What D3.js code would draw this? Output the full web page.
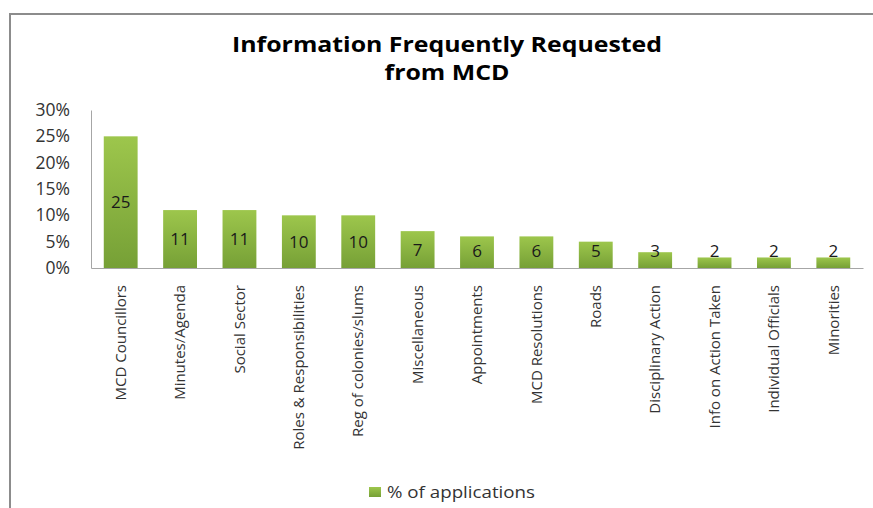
<!DOCTYPE html>
<html>
<head>
<meta charset="utf-8">
<script src="https://cdn.jsdelivr.net/npm/d3@7"></script>
<style>
  body { margin: 0; background: #fff; }
  text { font-family: "Open Sans", sans-serif; fill: #1a1a1a; }
</style>
</head>
<body>
<div id="chart"></div>
<script>
// chart data
const categories = ["MCD Councillors", "Minutes/Agenda", "Social Sector", "Roles & Responsibilities",
  "Reg of colonies/slums", "Miscellaneous", "Appointments", "MCD Resolutions", "Roads",
  "Disciplinary Action", "Info on Action Taken", "Individual Officials", "Minorities"];
const values = [25, 11, 11, 10, 10, 7, 6, 6, 5, 3, 2, 2, 2];
const yTicks = [0, 0.05, 0.10, 0.15, 0.20, 0.25, 0.30];
const seriesName = "% of applications";
const titleLines = ["Information Frequently Requested", "from MCD"];
const titleWidths = [430, 125];

const width = 873, height = 508;
const margin = { left: 91, right: 10, top: 110, bottom: 240 };

let svg = d3.select("#chart")
    .append("svg")
    .attr("width", width)
    .attr("height", height);

// gradient for bars
let defs = svg.append("defs");
let grad = defs.append("linearGradient")
    .attr("id", "barGrad")
    .attr("x1", 0).attr("y1", 0).attr("x2", 0).attr("y2", 1);
grad.append("stop").attr("offset", "0%").attr("stop-color", "#9dc64c");
grad.append("stop").attr("offset", "100%").attr("stop-color", "#76a036");

// outer frame
svg.append("rect")
    .attr("x", 10).attr("y", 14)
    .attr("width", 900).attr("height", 540)
    .attr("fill", "none")
    .attr("stroke", "#8c8c8c")
    .attr("stroke-width", 2);

// title (stretched a bit wider, like the original)
svg.append("g")
    .selectAll("text")
    .data(titleLines)
    .enter()
    .append("text")
    .attr("x", 447)
    .attr("y", (d, i) => 52 + i * 28)
    .attr("text-anchor", "middle")
    .attr("textLength", (d, i) => titleWidths[i])
    .attr("lengthAdjust", "spacingAndGlyphs")
    .style("font-weight", "bold")
    .style("font-size", "22px")
    .style("fill", "#000")
    .text(d => d);

let x = d3.scaleBand()
    .domain(categories)
    .range([margin.left, 863])
    .paddingInner(0.43)
    .paddingOuter(0.215);

let y = d3.scaleLinear()
    .domain([0, 0.30])
    .range([268, 110]);

// y axis
let yAxis = svg.append("g")
    .attr("transform", `translate(${margin.left},0)`)
    .call(d3.axisLeft(y).tickValues(yTicks).tickFormat(d3.format(".0%")).tickSize(0).tickPadding(21));
yAxis.select(".domain").attr("stroke", "#a6a6a6");
yAxis.selectAll("text").style("font-size", "17.5px").style("fill", "#333");

// x axis
let xAxis = svg.append("g")
    .attr("transform", `translate(0,${y(0)})`)
    .call(d3.axisBottom(x).tickSize(0).tickPadding(0));
xAxis.select(".domain").attr("stroke", "#a6a6a6");
xAxis.selectAll("text")
    .attr("transform", "rotate(-90)")
    .attr("text-anchor", "end")
    .attr("x", -17)
    .attr("y", 0)
    .attr("dy", "0.35em")
    .style("font-size", "15px")
    .style("fill", "#333");

// bars
svg.selectAll(".bar")
    .data(values)
    .enter()
    .append("rect")
    .attr("class", "bar")
    .attr("x", (d, i) => x(categories[i]))
    .attr("y", d => y(d / 100))
    .attr("width", x.bandwidth())
    .attr("height", d => y(0) - y(d / 100))
    .attr("fill", "url(#barGrad)");

// value labels
svg.selectAll(".vlabel")
    .data(values)
    .enter()
    .append("text")
    .attr("class", "vlabel")
    .attr("x", (d, i) => x(categories[i]) + x.bandwidth() / 2)
    .attr("y", d => Math.min((y(d / 100) + y(0)) / 2, y(0) - 17))
    .attr("dy", "0.35em")
    .attr("text-anchor", "middle")
    .style("font-size", "17px")
    .text(d => d);

// legend
let legend = svg.append("g").attr("transform", "translate(369,487)");
legend.append("rect")
    .attr("width", 12).attr("height", 10)
    .attr("fill", "url(#barGrad)");
legend.append("text")
    .attr("x", 18).attr("y", 5)
    .attr("dy", "0.35em")
    .attr("textLength", 148)
    .attr("lengthAdjust", "spacingAndGlyphs")
    .style("font-size", "17px")
    .style("fill", "#333")
    .text(seriesName);
</script>
</body>
</html>
